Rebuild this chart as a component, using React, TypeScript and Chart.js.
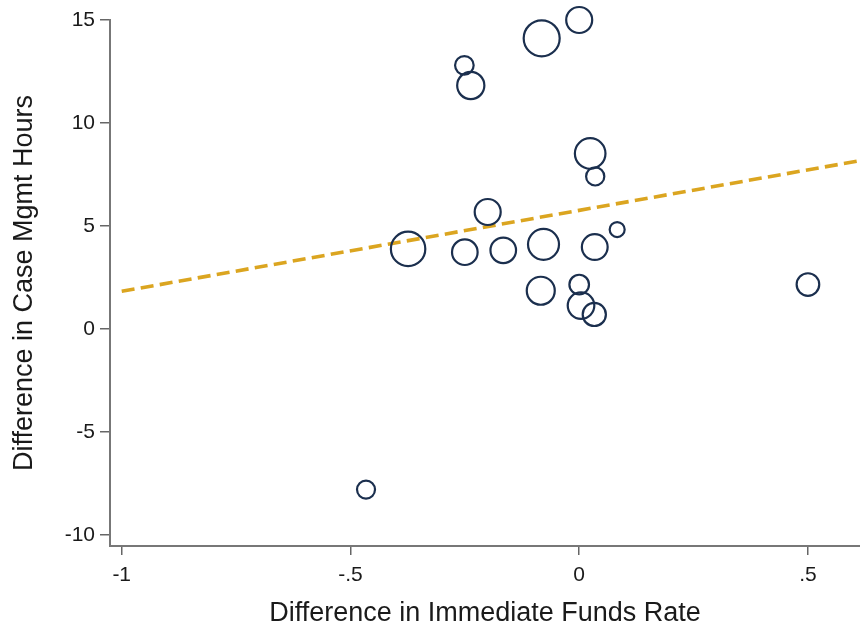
import React, { useEffect, useRef } from "react";
import { Chart, registerables, BubbleController } from "chart.js";

Chart.register(...registerables);
// keep the plot area flush with the axes (no automatic padding for bubble radii)
(BubbleController.prototype as any).getMaxOverflow = function () {
  return 0;
};

// Difference in Immediate Funds Rate
const xVals = [-0.082, 0.0, -0.251, -0.237, 0.024, 0.035, -0.2, 0.083, -0.374, -0.25, -0.166, -0.078, 0.034, -0.084, 0.0, 0.004, 0.033, 0.5, -0.466];
// Difference in Case Mgmt Hours
const yVals = [14.11, 15.0, 12.8, 11.82, 8.52, 7.41, 5.68, 4.83, 3.89, 3.73, 3.82, 4.11, 3.98, 1.86, 2.16, 1.14, 0.71, 2.16, -7.79];
// bubble sizes (weights)
const sizes = [18, 13, 9.3, 13.6, 15.3, 9.1, 13, 7.5, 17.2, 12.8, 12.8, 15.5, 12.9, 14, 9.8, 13.3, 11.6, 11.3, 9];

// linear fit
const fitIntercept = 5.76;
const fitSlope = 3.93;

const xTicks = [-1, -0.5, 0, 0.5];
const xTickLabels = ["-1", "-.5", "0", ".5"];
const yTicks = [-10, -5, 0, 5, 10, 15];
const yTickLabels = ["-10", "-5", "0", "5", "10", "15"];

const X_MIN = -1.0256;
const X_MAX = 0.6138;
const Y_MIN = -10.53;
const Y_MAX = 15;

const FONT = '"Liberation Sans", Arial, sans-serif';

export default function App() {
  const ref = useRef<HTMLCanvasElement | null>(null);
  useEffect(() => {
    if (!ref.current) return;
    const bubbles = xVals.map((x, i) => ({ x, y: yVals[i], r: sizes[i] }));
    const fitX = [-1, X_MAX];
    const fit = fitX.map((x) => ({ x, y: fitIntercept + fitSlope * x }));
    const chart = new Chart(ref.current, {
      type: "bubble",
      data: {
        datasets: [
          {
            type: "line",
            data: fit,
            borderColor: "#dba520",
            borderWidth: 3.6,
            borderDash: [13, 6.3],
            pointRadius: 0,
            fill: false,
            order: 2,
          } as any,
          {
            type: "bubble",
            data: bubbles,
            backgroundColor: "rgba(0,0,0,0)",
            borderColor: "#1b2f4e",
            borderWidth: 2.2,
            clip: false,
            order: 1,
          } as any,
        ],
      },
      options: {
        animation: false,
        responsive: false,
        maintainAspectRatio: false,
        layout: { padding: { top: 20, right: 0, left: 0, bottom: 0 } },
        plugins: { legend: { display: false }, tooltip: { enabled: false } },
        scales: {
          x: {
            type: "linear",
            min: X_MIN,
            max: X_MAX,
            afterBuildTicks: (s: any) => {
              s.ticks = xTicks.map((v) => ({ value: v }));
            },
            afterFit: (s: any) => {
              s.height = 85;
            },
            ticks: {
              callback: (v: any) => {
                const i = xTicks.indexOf(Number(v));
                return i >= 0 ? xTickLabels[i] : "";
              },
              font: { family: FONT, size: 21 },
              color: "#1a1a1a",
              padding: 8,
              maxRotation: 0,
              autoSkip: false,
            },
            grid: { display: true, drawOnChartArea: false, drawTicks: true, tickLength: 9, color: "#666", lineWidth: 1.5 },
            border: { display: true, color: "#777", width: 2 },
            title: {
              display: true,
              text: "Difference in Immediate Funds Rate",
              font: { family: FONT, size: 27 },
              color: "#1a1a1a",
              padding: { top: 0, bottom: 1 },
            },
          },
          y: {
            type: "linear",
            min: Y_MIN,
            max: Y_MAX,
            afterBuildTicks: (s: any) => {
              s.ticks = yTicks.map((v) => ({ value: v }));
            },
            afterFit: (s: any) => {
              s.width = 110;
            },
            ticks: {
              callback: (v: any) => {
                const i = yTicks.indexOf(Number(v));
                return i >= 0 ? yTickLabels[i] : "";
              },
              font: { family: FONT, size: 21 },
              color: "#1a1a1a",
              padding: 5,
              autoSkip: false,
            },
            grid: { display: true, drawOnChartArea: false, drawTicks: true, tickLength: 10, color: "#666", lineWidth: 1.5 },
            border: { display: true, color: "#777", width: 2 },
            title: {
              display: true,
              text: "Difference in Case Mgmt Hours",
              font: { family: FONT, size: 27 },
              color: "#1a1a1a",
              padding: { top: 8, bottom: 0 },
            },
          },
        },
      },
    });
    return () => chart.destroy();
  }, []);
  return (
    <div style={{ position: "fixed", left: 0, top: 0, width: 860, height: 631, background: "#fff" }}>
      <canvas ref={ref} width={860} height={631} style={{ width: 860, height: 631 }} />
    </div>
  );
}
